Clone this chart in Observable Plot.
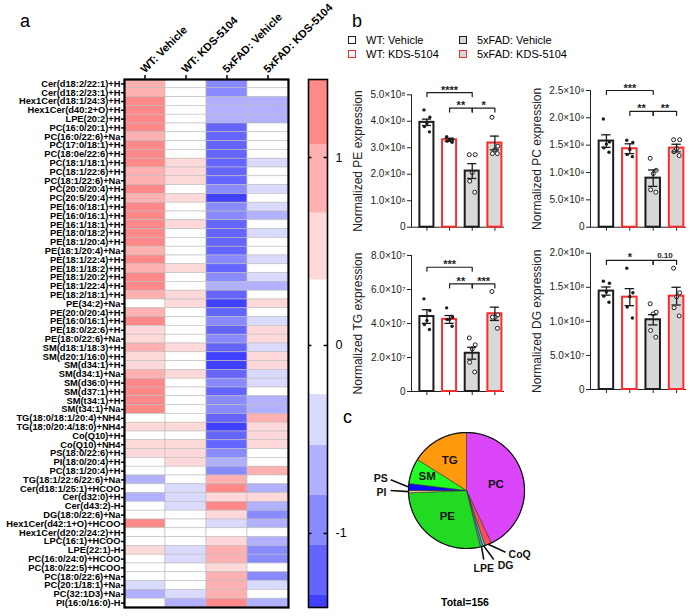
<!DOCTYPE html>
<html><head><meta charset="utf-8">
<script src="https://cdn.jsdelivr.net/npm/d3@7"></script>
<script src="https://cdn.jsdelivr.net/npm/@observablehq/plot@0.6"></script>
<style>
body{margin:0;background:#fff;}
#root{position:relative;width:700px;height:616px;font-family:"Liberation Sans",Arial,Helvetica,sans-serif;overflow:hidden;background:#fff;}
#root > *{position:absolute;}
.plab{font-size:18px;line-height:18px;color:#000;}
.leg{font-size:11px;line-height:12px;color:#000;white-space:nowrap;}
.sq{width:8px;height:8px;box-sizing:border-box;border:1.5px solid #222;}
</style></head><body><div id="root"></div>
<script>
// ================= DATA =================
const heatCols = ["WT: Vehicle", "WT: KDS-5104", "5xFAD: Vehicle", "5xFAD: KDS-5104"];
const lipidRows = [
  "Cer(d18:2/22:1)+H","Cer(d18:2/23:1)+H","Hex1Cer(d18:1/24:3)+H","Hex1Cer(d40:2+O)+H","LPE(20:2)+H",
  "PC(16:0/20:1)+H","PC(16:0/22:6)+Na","PC(17:0/18:1)+H","PC(18:0e/22:6)+H","PC(18:1/18:1)+H",
  "PC(18:1/22:6)+H","PC(18:1/22:6)+Na","PC(20:0/20:4)+H","PC(20:5/20:4)+H","PE(16:0/18:1)+H",
  "PE(16:0/16:1)+H","PE(16:1/18:1)+H","PE(18:0/18:2)+H","PE(18:1/20:4)+H","PE(18:1/20:4)+Na",
  "PE(18:1/22:4)+H","PE(18:1/18:2)+H","PE(18:1/20:2)+H","PE(18:1/22:4)+H","PE(18:2/18:1)+H",
  "PE(34:2)+Na","PE(20:0/20:4)+H","PE(16:0/16:1)+H","PE(18:0/22:6)+H","PE(18:0/22:6)+Na",
  "SM(d18:1/18:3)+H","SM(d20:1/16:0)+H","SM(d34:1)+H","SM(d34:1)+Na","SM(d36:0)+H",
  "SM(d37:1)+H","SM(t34:1)+H","SM(t34:1)+Na","TG(18:0/18:1/20:4)+NH4","TG(18:0/20:4/18:0)+NH4",
  "Co(Q10)+H","Co(Q10)+NH4","PS(18:0/22:6)+H","PI(18:0/20:4)+H","PC(18:1/20:4)+H",
  "TG(18:1/22:6/22:6)+Na","Cer(d18:1/25:1)+HCOO","Cer(d32:0)+H","Cer(d43:2)-H","DG(18:0/22:6)+Na",
  "Hex1Cer(d42:1+O)+HCOO","Hex1Cer(d20:2/24:2)+H","LPC(16:1)+HCOO","LPE(22:1)-H","PC(16:0/24:0)+HCOO",
  "PC(18:0/22:5)+HCOO","PC(18:0/22:6)+Na","PC(20:1/18:1)+Na","PC(32:1D3)+Na","PI(16:0/16:0)-H"
];
// row z-scores, one array per column
const wtVehicle = [
  0.92,0.88,1.24,1.22,1.2,1.19,0.86,1.21,1.17,1.23,
  0.9,0.85,1.2,0.87,1.22,1.25,1.18,1.21,1.19,0.89,
  1.2,0.86,1.22,1.19,0.88,0.05,0.9,1.24,0.55,0.52,
  0.91,0.5,0.54,0.87,1.2,1.22,1.25,1.21,0.02,0.56,
  0.03,0.53,0.5,0.04,0.01,-0.66,0.06,-0.64,0.0,0.02,
  1.23,0.01,0.03,0.5,0.04,0.02,0.05,-0.42,-0.68,0.03];
const wtKds = [
  0.02,0.04,0.01,0.03,0.05,0.02,0.06,0.03,0.04,0.52,
  0.5,0.55,0.08,0.53,0.05,0.02,0.51,0.07,0.03,0.06,
  0.04,0.54,0.02,0.05,0.56,0.5,0.03,0.06,0.08,0.04,
  0.52,0.1,0.07,0.55,0.03,0.05,0.02,0.04,0.01,0.53,
  0.06,0.55,0.51,0.5,0.02,0.05,-0.4,-0.38,-0.42,0.03,
  0.04,0.01,0.02,-0.41,-0.39,0.03,0.05,0.02,-0.43,-0.66];
const fadVehicle = [
  -0.92,-0.94,-0.64,-0.66,-0.65,-1.2,-1.18,-1.21,-1.19,-1.22,
  -1.2,-1.17,-0.9,-1.36,-0.93,-0.95,-1.18,-1.2,-1.22,-1.19,
  -0.92,-1.21,-0.9,-0.67,-1.18,-1.38,-1.2,-0.94,-1.19,-0.91,
  -1.2,-1.37,-1.36,-1.18,-0.93,-1.21,-0.95,-0.92,-1.2,-1.38,
  -1.22,-1.19,-0.9,-0.64,-0.93,0.88,1.22,0.54,1.24,0.52,
  -0.38,0.05,0.5,0.9,0.87,0.53,0.89,0.9,0.86,1.2];
const fadKds = [
  0.03,0.05,-0.65,-0.67,-0.66,0.04,0.02,0.06,0.01,-0.4,
  0.05,0.03,-0.41,0.06,-0.4,-0.63,0.04,-0.42,0.02,0.05,
  -0.39,0.03,-0.4,-0.66,0.04,0.52,0.06,-0.41,0.54,0.51,
  -0.4,0.55,0.53,-0.42,-0.4,0.04,-0.64,-0.66,0.88,0.52,
  0.5,0.53,0.05,0.02,0.9,0.03,-0.65,0.51,-0.67,-0.93,
  -0.64,0.02,-0.66,-0.92,-0.94,0.04,-0.9,-0.41,0.03,-0.62];
const colorBreaks = [-1.33, -1.064, -0.798, -0.532, -0.261, 0.349, 0.704, 1.067];
const colorSteps = ["#4040ff","#6464ff","#8a8aff","#b1b1ff","#dadaff","#ffffff","#ffd9d9","#ffb0b0","#ff8888"];
const legendExtent = [-1.394, 1.415];
const legendTicks = [-1, 0, 1];

// panel b
const groups = ["WT: Vehicle", "WT: KDS-5104", "5xFAD: Vehicle", "5xFAD: KDS-5104"];
const peMean = [3.96e8, 3.3e8, 2.12e8, 3.18e8];
const peSem = [0.12e8, 0.06e8, 0.28e8, 0.26e8];
const pePoints = [[4.43e8,4.15e8,3.92e8,3.8e8,3.6e8],[3.42e8,3.32e8,3.3e8,3.25e8,3.21e8],[2.74e8,2.74e8,2.06e8,1.74e8,1.32e8],[4.15e8,3.06e8,2.92e8,2.78e8,2.78e8]];
const peSig = [{a:0,b:2,y:5.08e8,t:"****"},{a:1,b:2,y:4.5e8,t:"**"},{a:2,b:3,y:4.5e8,t:"*"}];
const peTicks = [0,1e8,2e8,3e8,4e8,5e8];

const pcMean = [1.575e9, 1.435e9, 0.897e9, 1.447e9];
const pcSem = [0.115e9, 0.09e9, 0.15e9, 0.07e9];
const pcPoints = [[1.98e9,1.56e9,1.52e9,1.45e9,1.37e9],[1.59e9,1.55e9,1.42e9,1.33e9,1.29e9],[1.26e9,1.04e9,0.98e9,0.685e9,0.64e9],[1.6e9,1.6e9,1.435e9,1.38e9,1.31e9]];
const pcSig = [{a:0,b:2,y:2.5e9,t:"***"},{a:1,b:2,y:2.117e9,t:"**"},{a:2,b:3,y:2.117e9,t:"**"}];
const pcTicks = [0,5e8,1e9,1.5e9,2e9,2.5e9];

const tgMean = [4.41e7, 4.24e7, 2.25e7, 4.57e7];
const tgSem = [0.4e7, 0.23e7, 0.35e7, 0.39e7];
const tgPoints = [[5.45e7,4.76e7,4.18e7,3.94e7,3.65e7],[4.92e7,4.37e7,4.24e7,4.24e7,3.84e7],[3.15e7,2.75e7,2.5e7,1.72e7,1.15e7],[5.88e7,4.51e7,4.37e7,4.37e7,3.72e7]];
const tgSig = [{a:0,b:2,y:7.31e7,t:"***"},{a:1,b:2,y:6.33e7,t:"**"},{a:2,b:3,y:6.33e7,t:"***"}];
const tgTicks = [0,2e7,4e7,6e7,8e7];

const dgMean = [1.444e8, 1.355e8, 1.023e8, 1.37e8];
const dgSem = [0.06e8, 0.125e8, 0.075e8, 0.13e8];
const dgPoints = [[1.59e8,1.56e8,1.43e8,1.37e8,1.28e8],[1.78e8,1.42e8,1.36e8,1.21e8,1.05e8],[1.258e8,1.135e8,1.11e8,0.866e8,0.768e8],[1.78e8,1.42e8,1.36e8,1.2e8,1.08e8]];
const dgSig = [{a:0,b:2,y:1.894e8,t:"*"},{a:2,b:3,y:1.894e8,t:"0.10"}];
const dgTicks = [0,5e7,1e8,1.5e8,2e8];

// panel c
const pieClasses = ["PC","CoQ","DG","LPE","PE","PI","PS","SM","TG"];
const pieCounts = [67, 3, 1, 1, 44, 1, 3, 11, 25];
const pieColors = ["#dc46fb","#ff4d55","#3fd6d6","#5a8fb0","#22da22","#ffc27a","#0a0aff","#22ff22","#ff9a0e"];
const pieTotal = "Total=156";

// ================= LAYOUT =================
const FONT = '"Liberation Sans", Arial, Helvetica, sans-serif';
const root = document.getElementById("root");
function place(node, left, top) { node.style.left = left + "px"; node.style.top = top + "px"; root.appendChild(node); return node; }
function html(tag, cls, text) { const e = document.createElement(tag); if (cls) e.className = cls; if (text != null) e.textContent = text; return e; }

// ---- panel a: heatmap ----
const heatValues = [wtVehicle, wtKds, fadVehicle, fadKds];
const cells = [];
heatCols.forEach((c, ci) => heatValues[ci].forEach((v, ri) => cells.push({col: c, row: ri, v})));

const heat = Plot.plot({
  width: 300, height: 616, marginLeft: 124, marginRight: 12, marginTop: 79, marginBottom: 9,
  style: {background: "transparent", overflow: "visible", fontFamily: FONT, color: "#000"},
  x: {domain: heatCols, padding: 0, axis: null},
  y: {domain: d3.range(lipidRows.length), padding: 0, axis: null},
  color: {type: "threshold", domain: colorBreaks, range: colorSteps},
  marks: [
    Plot.cell(cells, {x: "col", y: "row", fill: "v", stroke: "#bdbdbd", strokeWidth: 0.6}),
    Plot.frame({stroke: "#000", strokeWidth: 2.2}),
    Plot.axisX({anchor: "top", tickSize: 5, tickPadding: 1, tickRotate: -45, textAnchor: "start", lineAnchor: "bottom",
      fontSize: 11, fontWeight: "bold", label: null, strokeWidth: 1.5}),
    Plot.axisY({anchor: "left", ticks: d3.range(lipidRows.length), tickSize: 3, tickPadding: 1,
      tickFormat: i => lipidRows[i], fontSize: 9.3, fontWeight: "bold", label: null, strokeWidth: 1.5})
  ]
});
place(heat, 0, 0);

// colour legend
const bandLo = [legendExtent[0], ...colorBreaks];
const bandHi = [...colorBreaks, legendExtent[1]];
const bands = colorSteps.map((c, i) => ({lo: bandLo[i], hi: bandHi[i], c}));
const legendPlot = Plot.plot({
  width: 60, height: 616, marginLeft: 8, marginRight: 33, marginTop: 79, marginBottom: 9,
  style: {background: "transparent", overflow: "visible", fontFamily: FONT, color: "#000"},
  x: {domain: [0, 1], axis: null},
  y: {domain: legendExtent, axis: null},
  color: {type: "identity"},
  marks: [
    Plot.rect(bands, {x1: () => 0, x2: () => 1, y1: "lo", y2: "hi", fill: "c"}),
    Plot.frame({stroke: "#000", strokeWidth: 1.6}),
    Plot.ruleY(legendTicks, {x1: () => 0, x2: () => 0.18, stroke: "#000", strokeWidth: 1.5}),
    Plot.ruleY(legendTicks, {x1: () => 0.82, x2: () => 1, stroke: "#000", strokeWidth: 1.5}),
    Plot.text(legendTicks, {y: d => d, x: () => 1, dx: 8, textAnchor: "start", text: d => String(d), fontSize: 12.5})
  ]
});
place(legendPlot, 300, 0);

// ---- panel b: bar charts ----
const sup = "⁰¹²³⁴⁵⁶⁷⁸⁹";
const fmtSci = v => {
  if (v === 0) return "0";
  const e = Math.floor(Math.log10(v) + 1e-9);
  return (v / 10 ** e).toFixed(1) + "×10" + String(e).split("").map(c => sup[+c]).join("");
};
const jitter = [-0.13, 0.13, 0, -0.11, 0.11];
const BLACK = "#1c1c1c", RED = "#ff2b2b", GRAY = "#d8d8d8";

function barPanel(cfg) {
  const {mean, sem, points, sig, ticks, title, left, top, width, height, mt, mb} = cfg;
  const ymax = ticks[ticks.length - 1];
  const rows = groups.map((g, i) => ({g, i, mean: mean[i], sem: sem[i]}));
  const pts = points.flatMap((arr, i) => arr.map((v, j) => ({i, j, v})));
  const fh = height - mt - mb;
  const drop = 4 * ymax / fh;
  const br = sig.flatMap((s, k) => [
    {k, x: s.a, y: s.y - drop}, {k, x: s.a, y: s.y}, {k, x: s.b, y: s.y}, {k, x: s.b, y: s.y - drop}]);
  const stars = sig.filter(s => s.t.includes("*"));
  const nums = sig.filter(s => !s.t.includes("*"));
  const svg = Plot.plot({
    width, height, marginLeft: 71, marginRight: 7, marginTop: mt, marginBottom: mb,
    style: {background: "transparent", overflow: "visible", fontFamily: FONT, fontSize: "10px", color: "#222"},
    x: {domain: [-0.68, 3.38], ticks: [0, 1, 2, 3], tickFormat: () => "", tickSize: 4, line: true, label: null},
    y: {domain: [0, ymax], ticks, tickFormat: fmtSci, tickSize: 4, tickPadding: 2, line: true, label: null},
    marks: [
      Plot.rect(rows, {x1: d => d.i - 0.31, x2: d => d.i + 0.31, y1: () => 0, y2: "mean",
        fill: d => d.i >= 2 ? GRAY : "white", stroke: d => d.i % 2 ? RED : BLACK, strokeWidth: 2}),
      Plot.dot(pts.filter(p => p.i < 2), {x: p => p.i + jitter[p.j], y: "v", r: 1.7, fill: BLACK}),
      Plot.dot(pts.filter(p => p.i >= 2), {x: p => p.i + jitter[p.j], y: "v", r: 2, fill: "white", stroke: BLACK, strokeWidth: 1}),
      Plot.ruleX(rows, {x: "i", y1: d => d.mean - d.sem, y2: d => d.mean + d.sem, stroke: BLACK, strokeWidth: 1.3}),
      Plot.ruleY(rows, {y: d => d.mean + d.sem, x1: d => d.i - 0.2, x2: d => d.i + 0.2, stroke: BLACK, strokeWidth: 1.3}),
      Plot.ruleY(rows, {y: d => d.mean - d.sem, x1: d => d.i - 0.2, x2: d => d.i + 0.2, stroke: BLACK, strokeWidth: 1.3}),
      Plot.line(br, {x: "x", y: "y", z: "k", stroke: BLACK, strokeWidth: 1.2}),
      Plot.text(stars, {x: d => (d.a + d.b) / 2, y: "y", text: "t", lineAnchor: "bottom", dy: 1, fontSize: 11, fontWeight: "bold", fill: BLACK}),
      Plot.text(nums, {x: d => (d.a + d.b) / 2, y: "y", text: "t", lineAnchor: "bottom", dy: -2, fontSize: 8, fontWeight: "bold", fill: BLACK}),
      Plot.text([title], {frameAnchor: "left", textAnchor: "middle", lineAnchor: "middle", text: d => d, rotate: -90, dx: -53, fontSize: 12, fill: "#222"})
    ]
  });
  place(svg, left, top);
}
barPanel({mean: peMean, sem: peSem, points: pePoints, sig: peSig, ticks: peTicks, title: "Normalized PE expression", left: 340, top: 70, width: 170, height: 170, mt: 24.3, mb: 13.3});
barPanel({mean: pcMean, sem: pcSem, points: pcPoints, sig: pcSig, ticks: pcTicks, title: "Normalized PC expression", left: 519, top: 70, width: 173, height: 170, mt: 20, mb: 13.3});
barPanel({mean: tgMean, sem: tgSem, points: tgPoints, sig: tgSig, ticks: tgTicks, title: "Normalized TG expression", left: 340, top: 235, width: 170, height: 170, mt: 20, mb: 14});
barPanel({mean: dgMean, sem: dgSem, points: dgPoints, sig: dgSig, ticks: dgTicks, title: "Normalized DG expression", left: 519, top: 235, width: 173, height: 170, mt: 17.7, mb: 16});

// legend for b
const legItems = [
  {label: groups[0], fill: "#fff", stroke: BLACK, x: 348, y: 36},
  {label: groups[1], fill: "#fff", stroke: RED, x: 348, y: 49.5},
  {label: groups[2], fill: GRAY, stroke: BLACK, x: 459, y: 36},
  {label: groups[3], fill: GRAY, stroke: RED, x: 459, y: 49.5}
];
legItems.forEach(it => {
  const s = html("div", "sq"); s.style.background = it.fill; s.style.borderColor = it.stroke;
  place(s, it.x, it.y);
  place(html("div", "leg", it.label), it.x + 18, it.y - 2);
});

// ---- panel c: pie ----
const arcs = d3.pie().sort(null).value(d => d)(pieCounts);
const slices = arcs.map((a, i) => {
  const pts = [{x: 0, y: 0}];
  const n = Math.max(2, Math.ceil((a.endAngle - a.startAngle) / 0.02));
  for (let k = 0; k <= n; k++) {
    const t = a.startAngle + (a.endAngle - a.startAngle) * k / n;
    pts.push({x: Math.sin(t), y: Math.cos(t)});
  }
  pts.push({x: 0, y: 0});
  return {cls: pieClasses[i], color: pieColors[i], mid: (a.startAngle + a.endAngle) / 2, pts};
});
const circle = d3.range(0, 361, 2).map(t => ({x: Math.sin(t * Math.PI / 180), y: Math.cos(t * Math.PI / 180)}));
const bySlice = Object.fromEntries(slices.map(s => [s.cls, s]));
// label layout (radius fraction inside; callout angle/radius outside)
const insideR = {PC: 0.52, TG: 0.6, SM: 0.72, PE: 0.55};
const inside = Object.entries(insideR).map(([c, r]) => ({c, x: r * Math.sin(bySlice[c].mid), y: r * Math.cos(bySlice[c].mid)}));
const calloutLayout = [
  {c: "PS", ang: 278, r: 1.32, anchor: "end", dx: -3, dy: -1.5},
  {c: "PI", ang: 270, r: 1.31, anchor: "end", dx: -4, dy: 2},
  {c: "CoQ", ang: 147.7, r: 1.26, anchor: "start", dx: 3, dy: 2},
  {c: "DG", ang: 158.5, r: 1.28, anchor: "start", dx: 4, dy: 6},
  {c: "LPE", ang: 166, r: 1.23, anchor: "middle", dx: 0, dy: 9}
];
const callouts = calloutLayout.map(o => {
  const m = bySlice[o.c].mid, a = o.ang * Math.PI / 180;
  return {...o, x1: Math.sin(m), y1: Math.cos(m), x2: o.r * Math.sin(a), y2: o.r * Math.cos(a)};
});
const pie = Plot.plot({
  width: 220, height: 196,
  style: {background: "transparent", overflow: "visible", fontFamily: FONT, color: "#111"},
  x: {domain: [-1, 1], range: [38, 154], axis: null},
  y: {domain: [-1, 1], range: [128, 12], axis: null},
  marks: [
    ...slices.map(s => Plot.line(s.pts, {x: "x", y: "y", fill: s.color, stroke: "#333", strokeWidth: 0.6, strokeLinejoin: "round"})),
    Plot.line(circle, {x: "x", y: "y", stroke: "#111", strokeWidth: 1.2}),
    Plot.link(callouts, {x1: "x1", y1: "y1", x2: "x2", y2: "y2", stroke: "#111", strokeWidth: 1.6}),
    Plot.text(inside, {x: "x", y: "y", text: "c", fontSize: 11.5, fontWeight: "bold", fill: "#111"}),
    ...callouts.map(o => Plot.text([o], {x: "x2", y: "y2", text: "c", textAnchor: o.anchor, dx: o.dx, dy: o.dy, fontSize: 10.5, fontWeight: "bold", fill: "#111"}))
  ]
});
place(pie, 370, 420);
const tot = html("div", "leg", pieTotal); tot.style.fontWeight = "bold"; tot.style.fontSize = "10.5px";
place(tot, 441, 596);

// panel letters
place(html("div", "plab", "a"), 20, 12);
place(html("div", "plab", "b"), 352, 12);
place(html("div", "plab", "c"), 343, 408);
</script></body></html>
